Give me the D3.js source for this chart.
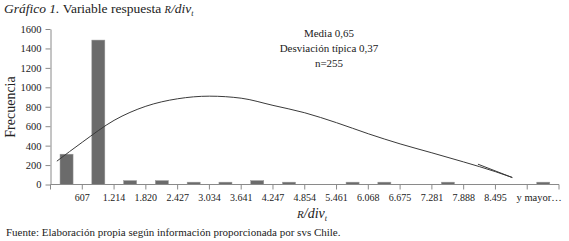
<!DOCTYPE html>
<html>
<head>
<meta charset="utf-8">
<script src="https://cdn.jsdelivr.net/npm/d3@7"></script>
<style>
  body { margin: 0; background: #fff; }
  svg text { font-family: "Liberation Serif", "DejaVu Serif", serif; fill: #222; }
  .axis path, .axis line { stroke: #8a8a8a; }
</style>
</head>
<body>
<svg id="chart" width="569" height="241"></svg>
<script>
// bins (16 classes), tick labels at the bin boundaries
var bins = d3.range(16);
var tickLabels = ["607", "1.214", "1.820", "2.427", "3.034", "3.641", "4.247", "4.854",
                  "5.461", "6.068", "6.675", "7.281", "7.888", "8.495"];
var lastLabel = "y mayor…";
var freq = [312, 1486, 40, 40, 24, 24, 40, 24, 0, 24, 24, 0, 24, 0, 0, 24];

// fitted curve, x in bin units, y in frequency (last point is the stray back stroke)
var curveX = [0.2, 1, 2, 3, 4, 5, 6, 7, 8, 9, 10, 11, 12, 13, 14, 14.53, 13.45];
var curveY = [240, 435, 660, 805, 882, 909, 888, 814, 738, 636, 522, 418, 326, 232, 132, 72, 209];

var yTicks = [0, 200, 400, 600, 800, 1000, 1200, 1400, 1600];

var svg = d3.select("#chart");
var plotL = 50.5, plotR = 559, plotT = 29, plotB = 184.5;

var x = d3.scaleBand().domain(bins).range([plotL, plotR]);
var xc = d3.scaleLinear().domain([0, 16]).range([plotL, plotR]);
var y = d3.scaleLinear().domain([0, 1600]).range([plotB, plotT]);

// y axis
var yAxis = svg.append("g")
    .attr("class", "axis")
    .attr("transform", "translate(" + plotL + ",0)")
    .call(d3.axisLeft(y).tickValues(yTicks).tickFormat(d3.format("d"))
        .tickSize(5).tickPadding(4).tickSizeOuter(0));
yAxis.selectAll("text").style("font-size", "10.5px");

// x axis
var xAxis = svg.append("g")
    .attr("class", "axis")
    .attr("transform", "translate(0," + plotB + ")");
xAxis.append("line")
    .attr("x1", plotL).attr("x2", plotR)
    .attr("stroke", "#8a8a8a");
xAxis.selectAll(".tk")
    .data(d3.range(17))
    .enter().append("line")
    .attr("x1", function(d) { return xc(d); })
    .attr("x2", function(d) { return xc(d); })
    .attr("y1", 0).attr("y2", 5)
    .attr("stroke", "#8a8a8a");
xAxis.selectAll(".lbl")
    .data(tickLabels)
    .enter().append("text")
    .attr("x", function(d, i) { return xc(i + 1); })
    .attr("y", 16)
    .attr("text-anchor", "middle")
    .style("font-size", "10px")
    .text(function(d) { return d; });
xAxis.append("text")
    .attr("x", xc(15.5) - 4)
    .attr("y", 16)
    .attr("text-anchor", "middle")
    .style("font-size", "10.5px")
    .text(lastLabel);

// bars
svg.selectAll(".bar")
    .data(freq)
    .enter().append("rect")
    .attr("x", function(d, i) { return x(i) + x.bandwidth() * 0.3; })
    .attr("width", x.bandwidth() * 0.41)
    .attr("y", function(d) { return y(d); })
    .attr("height", function(d) { return plotB - y(d); })
    .attr("fill", "#6b6b6b")
    .attr("stroke", "#9a9a9a")
    .attr("stroke-width", 0.5);

// curve
var pts = curveX.map(function(v, i) { return [v, curveY[i]]; });
var n = pts.length;
var line = d3.line()
    .x(function(d) { return xc(d[0]); })
    .y(function(d) { return y(d[1]); })
    .curve(d3.curveMonotoneX);
svg.append("path")
    .datum(pts.slice(0, n - 1))
    .attr("d", line)
    .attr("fill", "none")
    .attr("stroke", "#3a3a3a")
    .attr("stroke-width", 1);
svg.append("path")
    .datum(pts.slice(n - 2))
    .attr("d", d3.line().x(function(d) { return xc(d[0]); }).y(function(d) { return y(d[1]); }))
    .attr("fill", "none")
    .attr("stroke", "#3a3a3a")
    .attr("stroke-width", 1);

// stats box
var stats = ["Media 0,65", "Desviación típica 0,37", "n=255"];
svg.selectAll(".stat")
    .data(stats)
    .enter().append("text")
    .attr("x", 329)
    .attr("y", function(d, i) { return 37 + i * 14.8; })
    .attr("text-anchor", "middle")
    .style("font-size", "11px")
    .text(function(d) { return d; });

// y title
svg.append("text")
    .attr("transform", "translate(15,107) rotate(-90)")
    .attr("text-anchor", "middle")
    .style("font-size", "14px")
    .text("Frecuencia");

// x title
var xt = svg.append("text")
    .attr("x", 312)
    .attr("y", 218)
    .attr("text-anchor", "middle")
    .style("font-size", "14px")
    .style("font-style", "italic");
xt.append("tspan").style("font-size", "11px").text("R");
xt.append("tspan").text("/div");
xt.append("tspan").attr("dy", 3).style("font-size", "8px").text("t");

// title
var title = svg.append("text")
    .attr("x", 4)
    .attr("y", 12.5)
    .style("font-size", "13.5px");
title.append("tspan").style("font-style", "italic").text("Gráfico 1.");
title.append("tspan").text(" Variable respuesta ");
title.append("tspan").style("font-style", "italic").style("font-size", "10.5px").text("R");
title.append("tspan").style("font-style", "italic").text("/div");
title.append("tspan").attr("dy", 3).style("font-style", "italic").style("font-size", "8px").text("t");

// source
svg.append("text")
    .attr("x", 6)
    .attr("y", 236)
    .style("font-size", "11px")
    .text("Fuente: Elaboración propia según información proporcionada por svs Chile.");
</script>
</body>
</html>
